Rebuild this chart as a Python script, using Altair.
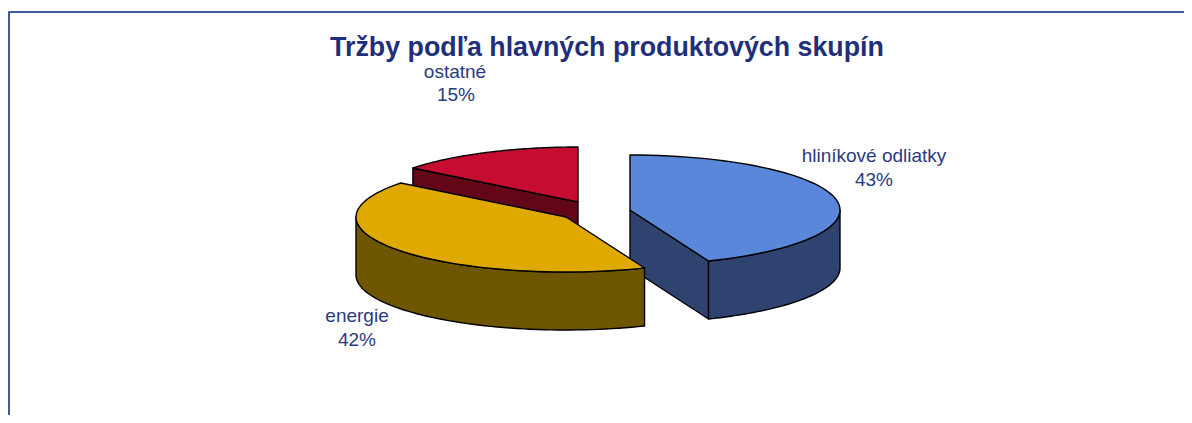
import math
import altair as alt
import pandas as pd

title_text = "Tržby podľa hlavných produktových skupín"
categories = ["hliníkové odliatky", "energie", "ostatné"]
values = [43.9, 41.7, 14.4]
percent_labels = ["43%", "42%", "15%"]
top_colors = ["#5B87DA", "#DFA900", "#C60C30"]
side_colors = ["#2E4370", "#6E5500", "#630618"]
label_colors = "#2B3A80"

# pie geometry, in page pixels: apex of each exploded slice
apexes = [(630, 210), (566, 217), (578, 202)]
RX, RY, DEPTH = 210, 55, 58
W, H = 1176, 407
X0, Y0 = 8, 8

starts = []
acc = 0.0
for v in values:
    starts.append(acc)
    acc += v * 3.6


def pt(apex, deg, drop=0):
    r = math.radians(deg)
    return (apex[0] + RX * math.sin(r), apex[1] - RY * math.cos(r) + drop)


def arc(apex, a, b, drop=0, n=60):
    return [pt(apex, a + (b - a) * i / n, drop) for i in range(n + 1)]


xs = alt.Scale(domain=[X0, X0 + W], range=[0, W])
ys = alt.Scale(domain=[Y0, Y0 + H], range=[0, H])


def poly(points, fill):
    df = pd.DataFrame({"x": [p[0] for p in points], "y": [p[1] for p in points], "i": range(len(points))})
    return (
        alt.Chart(df)
        .mark_line(fill=fill, stroke="#000000", strokeWidth=1.4, interpolate="linear-closed", strokeJoin="round")
        .encode(
            x=alt.X("x:Q", scale=xs, axis=None),
            y=alt.Y("y:Q", scale=ys, axis=None),
            order="i:Q",
        )
    )


layers = []
# blue slice
ap = apexes[0]
a0, a1 = starts[0], starts[0] + values[0] * 3.6
e = pt(ap, a1)
layers.append(poly([ap, e, pt(ap, a1, DEPTH), (ap[0], ap[1] + DEPTH)], side_colors[0]))
layers.append(poly(arc(ap, 90, a1) + arc(ap, a1, 90, DEPTH), side_colors[0]))
layers.append(poly([ap] + arc(ap, a0, a1), top_colors[0]))
# red slice
ap = apexes[2]
a0, a1 = starts[2], 360.0
s = pt(ap, a0)
layers.append(poly([ap, s, pt(ap, a0, DEPTH), (ap[0], ap[1] + DEPTH)], side_colors[2]))
layers.append(poly([ap] + arc(ap, a0, a1), top_colors[2]))
# yellow slice
ap = apexes[1]
a0, a1 = starts[1], starts[1] + values[1] * 3.6
layers.append(poly(arc(ap, a0, 270) + arc(ap, 270, a0, DEPTH), side_colors[1]))
layers.append(poly([ap] + arc(ap, a0, a1), top_colors[1]))

# chart-area border
border = pd.DataFrame({"x": [X0 + 1, X0 + 1, X0 + W], "y": [Y0 + H, 12, 12], "i": [0, 1, 2]})
layers.append(
    alt.Chart(border)
    .mark_line(stroke="#3F5BA0", strokeWidth=2, strokeJoin="round")
    .encode(x=alt.X("x:Q", scale=xs, axis=None), y=alt.Y("y:Q", scale=ys, axis=None), order="i:Q")
)


def text(rows, size, weight="normal", color=label_colors):
    df = pd.DataFrame(rows, columns=["x", "y", "t"])
    return (
        alt.Chart(df)
        .mark_text(font="Liberation Sans", fontSize=size, fontWeight=weight, color=color, align="center", baseline="alphabetic")
        .encode(x=alt.X("x:Q", scale=xs, axis=None), y=alt.Y("y:Q", scale=ys, axis=None), text="t:N")
    )


layers.append(text([(607, 56, title_text)], 26.8, "bold", "#1F2F7A"))
layers.append(
    text(
        [
            (874, 162, categories[0]),
            (874, 186, percent_labels[0]),
            (357, 322, categories[1]),
            (357, 346, percent_labels[1]),
            (455, 78, categories[2]),
            (456, 101, percent_labels[2]),
        ],
        19,
    )
)

chart = (
    alt.layer(*layers)
    .properties(
        width=W,
        height=H,
        padding=0,
        background="#FFFFFF",
        autosize=alt.AutoSizeParams(type="none"),
    )
    .configure_view(stroke=None)
)
chart.save("out.html", embed_options={"renderer": "svg", "actions": False})
